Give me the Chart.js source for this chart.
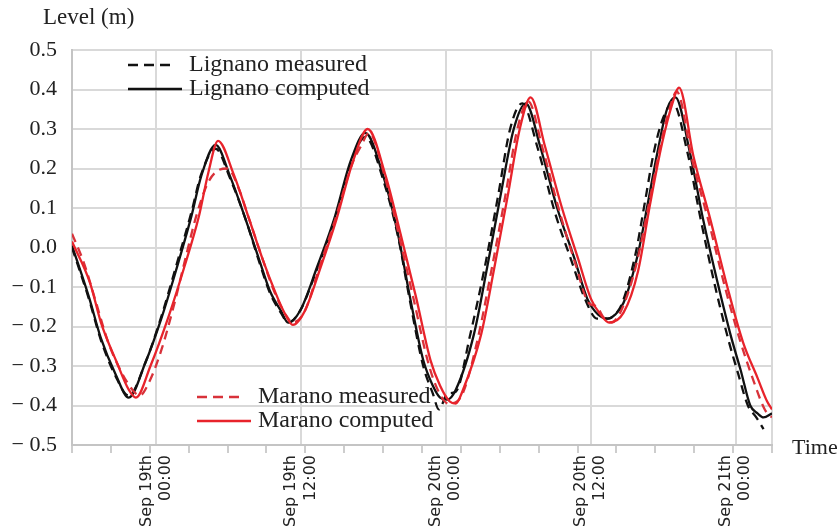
<!DOCTYPE html>
<html lang="en">
<head>
<meta charset="UTF-8">
<title>Level - Lignano / Marano</title>
<script src="https://cdn.jsdelivr.net/npm/chart.js"></script>
<style>
  html, body { margin: 0; padding: 0; background: #fff; overflow: hidden; }
  #box { width: 839px; height: 529px; }
</style>
</head>
<body>

<div id="box"><canvas id="grafico"></canvas></div>

<script>
// time in hours from Sep 19th 00:00, level in m
var X_MIN = -7;
var X_MAX = 51;

var labelHours = [0, 12, 24, 36, 48];
var xTickLabels = [
  ['Sep 19th', '00:00'],
  ['Sep 19th', '12:00'],
  ['Sep 20th', '00:00'],
  ['Sep 20th', '12:00'],
  ['Sep 21th', '00:00']
];

var lignanoMeasT = [-7.0, -5.6, -4.6, -3.4, -2.3, -0.9, 0.4, 1.6, 2.9, 3.7, 4.9, 6.1, 7.4, 8.5, 9.4, 10.3, 10.9, 11.9, 13.3, 14.7, 16.1, 17.3, 18.8, 20.0, 21.0, 22.1, 22.9, 23.4, 24.1, 24.8, 26.0, 27.2, 28.3, 29.3, 30.3, 31.6, 33.0, 34.4, 35.5, 36.5, 37.4, 38.0, 38.6, 39.7, 40.5, 41.2, 42.0, 42.8, 44.0, 45.1, 46.3, 47.4, 48.2, 49.0, 49.7, 50.3];
var lignanoMeasV = [0.0, -0.13, -0.235, -0.325, -0.375, -0.29, -0.175, -0.05, 0.09, 0.185, 0.25, 0.175, 0.07, -0.035, -0.115, -0.165, -0.19, -0.16, -0.055, 0.065, 0.21, 0.28, 0.17, 0.03, -0.135, -0.30, -0.37, -0.41, -0.37, -0.365, -0.22, -0.05, 0.13, 0.30, 0.365, 0.25, 0.09, -0.035, -0.13, -0.18, -0.18, -0.17, -0.14, -0.015, 0.12, 0.24, 0.33, 0.365, 0.24, 0.07, -0.10, -0.235, -0.32, -0.40, -0.43, -0.46];

var lignanoCompT = [-7.0, -5.6, -4.6, -3.4, -2.3, -0.9, 0.4, 1.6, 2.9, 3.7, 4.9, 6.1, 7.4, 8.5, 9.4, 10.3, 10.9, 11.9, 13.3, 14.7, 16.1, 17.3, 18.8, 20.0, 21.0, 22.1, 22.9, 23.5, 24.1, 24.8, 26.3, 27.4, 28.5, 29.6, 30.6, 31.8, 33.2, 34.6, 35.7, 36.6, 37.4, 38.0, 38.7, 39.9, 40.7, 41.5, 42.3, 43.0, 44.2, 45.3, 46.5, 47.6, 48.4, 49.2, 49.8, 50.3, 51.0];
var lignanoCompV = [0.005, -0.125, -0.23, -0.32, -0.38, -0.29, -0.18, -0.06, 0.08, 0.18, 0.26, 0.18, 0.07, -0.03, -0.11, -0.16, -0.19, -0.16, -0.05, 0.07, 0.22, 0.29, 0.18, 0.035, -0.125, -0.285, -0.35, -0.38, -0.385, -0.36, -0.22, -0.05, 0.13, 0.30, 0.365, 0.255, 0.10, -0.025, -0.13, -0.17, -0.18, -0.17, -0.14, -0.015, 0.11, 0.24, 0.35, 0.38, 0.24, 0.07, -0.09, -0.225, -0.31, -0.40, -0.42, -0.43, -0.42];

var maranoMeasT = [-7.0, -6.0, -5.0, -4.0, -3.0, -2.0, -1.4, -0.6, 0.4, 1.5, 2.3, 3.3, 4.2, 5.1, 5.9, 6.8, 7.7, 8.8, 9.8, 10.7, 11.3, 12.3, 13.5, 14.8, 16.2, 17.0, 17.6, 19.0, 20.1, 21.3, 22.5, 23.3, 24.2, 24.9, 25.5, 26.7, 27.8, 28.9, 29.9, 30.8, 32.0, 33.4, 34.7, 35.8, 36.5, 37.0, 37.7, 38.5, 39.7, 40.8, 41.8, 42.6, 43.1, 44.4, 45.8, 47.1, 48.4, 49.5, 50.4, 51.0];
var maranoMeasV = [0.035, -0.04, -0.14, -0.24, -0.31, -0.36, -0.375, -0.34, -0.26, -0.14, -0.04, 0.08, 0.16, 0.195, 0.20, 0.15, 0.07, -0.03, -0.115, -0.17, -0.19, -0.16, -0.05, 0.07, 0.21, 0.26, 0.29, 0.17, 0.03, -0.13, -0.29, -0.36, -0.395, -0.39, -0.36, -0.22, -0.05, 0.13, 0.30, 0.37, 0.25, 0.09, -0.04, -0.14, -0.15, -0.175, -0.19, -0.16, -0.05, 0.11, 0.265, 0.36, 0.395, 0.22, 0.06, -0.10, -0.24, -0.34, -0.41, -0.43];

var maranoCompT = [-7.0, -5.5, -4.6, -3.3, -2.3, -1.7, -0.5, 1.0, 2.3, 3.5, 4.3, 5.1, 6.4, 7.7, 8.8, 9.8, 10.6, 11.3, 12.3, 13.6, 14.9, 16.3, 17.5, 19.0, 20.2, 21.5, 22.7, 23.5, 24.3, 24.8, 25.4, 26.9, 28.0, 29.1, 30.1, 31.0, 32.2, 33.6, 34.9, 36.0, 36.8, 37.5, 38.7, 39.9, 40.9, 41.9, 42.7, 43.3, 44.5, 45.9, 47.3, 48.6, 49.8, 50.6, 51.0];
var maranoCompV = [0.015, -0.09, -0.19, -0.29, -0.36, -0.38, -0.30, -0.175, -0.05, 0.077, 0.19, 0.27, 0.185, 0.07, -0.03, -0.11, -0.165, -0.196, -0.16, -0.05, 0.07, 0.22, 0.30, 0.18, 0.037, -0.125, -0.285, -0.35, -0.39, -0.395, -0.36, -0.22, -0.05, 0.13, 0.30, 0.38, 0.255, 0.10, -0.025, -0.13, -0.17, -0.19, -0.165, -0.06, 0.11, 0.265, 0.36, 0.405, 0.23, 0.07, -0.10, -0.24, -0.33, -0.39, -0.41];

var GRID = '#d9d9d9';
var TEXT = '#222';
var SERIF = '"Liberation Serif", "DejaVu Serif", serif';

function pares(t, v) {
  var out = [];
  for (var i = 0; i < t.length; i++) out.push({ x: t[i], y: v[i] });
  return out;
}

function serie(label, t, v, cor, dash, ordem) {
  return {
    label: label,
    data: pares(t, v),
    borderColor: cor,
    borderWidth: 2.3,
    borderDash: dash,
    pointRadius: 0,
    fill: false,
    cubicInterpolationMode: 'monotone',
    order: ordem
  };
}

function nivel(v) {
  var s = Math.abs(v).toFixed(1);
  return v < -1e-9 ? '\u2212 ' + s : s;
}

function ehRotulo(valor) {
  return labelHours.indexOf(valor) >= 0;
}

// legend rows and axis names drawn by hand, at the places of the original
var legendas = [
  { ds: 0, x: 128, y: 65, len: 48 },
  { ds: 1, x: 128, y: 89, len: 54 },
  { ds: 2, x: 197, y: 397, len: 48 },
  { ds: 3, x: 197, y: 421, len: 54 }
];

var extras = {
  id: 'extras',
  afterDraw: function (chart) {
    var c = chart.ctx;
    c.save();
    c.fillStyle = TEXT;
    c.textBaseline = 'middle';
    c.font = '23px ' + SERIF;
    c.fillText('Level (m)', 43, 18);
    c.font = '22px ' + SERIF;
    c.fillText('Time', 792, 448);

    legendas.forEach(function (l) {
      var ds = chart.data.datasets[l.ds];
      c.beginPath();
      c.strokeStyle = ds.borderColor;
      c.lineWidth = 2.5;
      c.setLineDash(ds.borderDash.length ? [10, 6] : []);
      c.moveTo(l.x, l.y);
      c.lineTo(l.x + l.len, l.y);
      c.stroke();
      c.setLineDash([]);
      c.fillStyle = TEXT;
      c.font = '24px ' + SERIF;
      c.fillText(ds.label, l.x + 61, l.y);
    });
    c.restore();
  }
};

var ctx = document.getElementById('grafico').getContext('2d');
var grafico = new Chart(ctx, {
  type: 'line',
  data: {
    datasets: [
      serie('Lignano measured', lignanoMeasT, lignanoMeasV, '#111111', [9, 6], 3),
      serie('Lignano computed', lignanoCompT, lignanoCompV, '#111111', [], 2),
      serie('Marano measured', maranoMeasT, maranoMeasV, '#d8323a', [9, 6], 1),
      serie('Marano computed', maranoCompT, maranoCompV, '#e8232b', [], 0)
    ]
  },
  options: {
    responsive: true,
    maintainAspectRatio: false,
    animation: false,
    layout: { padding: { left: 0, top: 50, right: 67, bottom: 0 } },
    plugins: {
      legend: { display: false },
      tooltip: { enabled: false },
      title: { display: false }
    },
    scales: {
      x: {
        type: 'linear',
        min: X_MIN,
        max: X_MAX,
        afterBuildTicks: function (scale) {
          var ticks = [];
          for (var i = 0; i <= 18; i++) {
            ticks.push({ value: X_MIN + i * (X_MAX - X_MIN) / 18 });
          }
          labelHours.forEach(function (h) { ticks.push({ value: h }); });
          ticks.sort(function (a, b) { return a.value - b.value; });
          scale.ticks = ticks;
        },
        afterFit: function (scale) { scale.height = 84; },
        grid: {
          lineWidth: 2,
          color: function (c) {
            if (!c.tick) return GRID;
            return (ehRotulo(c.tick.value) || c.tick.value === X_MAX) ? GRID : 'rgba(0,0,0,0)';
          },
          tickColor: function (c) {
            if (!c.tick) return '#bdbdbd';
            return ehRotulo(c.tick.value) ? 'rgba(0,0,0,0)' : '#bdbdbd';
          },
          tickLength: 8,
          tickWidth: 1.5
        },
        border: { color: '#c4c4c4', width: 2 },
        ticks: {
          autoSkip: false,
          minRotation: 90,
          maxRotation: 90,
          padding: 2,
          labelOffset: -10,
          color: TEXT,
          font: { family: 'DejaVu Sans', size: 16, lineHeight: 1.2 },
          callback: function (value) {
            var k = labelHours.indexOf(value);
            return k < 0 ? '' : xTickLabels[k];
          }
        }
      },
      y: {
        min: -0.5,
        max: 0.5,
        afterFit: function (scale) { scale.width = 72; },
        grid: { color: GRID, lineWidth: 2, drawTicks: false },
        border: { color: '#c4c4c4', width: 2 },
        ticks: {
          stepSize: 0.1,
          padding: 15,
          color: TEXT,
          font: { family: SERIF, size: 22 },
          callback: function (value) { return nivel(value); }
        }
      }
    }
  },
  plugins: [extras]
});
</script>
</body>
</html>
